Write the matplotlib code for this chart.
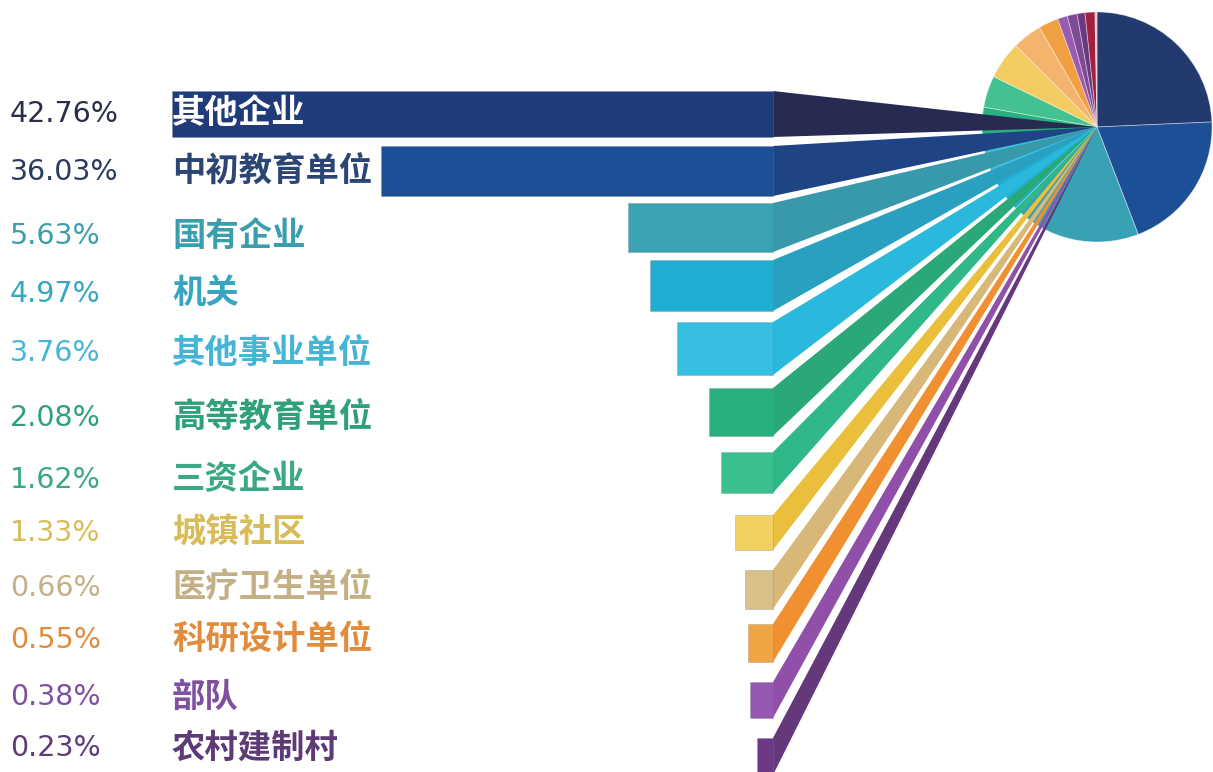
import matplotlib
matplotlib.use("Agg")
import matplotlib.pyplot as plt
from matplotlib.patches import Polygon

# ---- data ----
categories = ["其他企业", "中初教育单位", "国有企业", "机关", "其他事业单位", "高等教育单位",
              "三资企业", "城镇社区", "医疗卫生单位", "科研设计单位", "部队", "农村建制村"]
percents = [42.76, 36.03, 5.63, 4.97, 3.76, 2.08, 1.62, 1.33, 0.66, 0.55, 0.38, 0.23]
# pie slice shares as drawn (degrees, clockwise from 12 o'clock)
pie_shares = [87.5, 71.5, 66, 18, 18, 19, 16, 19, 15, 10, 5, 5, 4, 5, 1]

# ---- layout (pixels) ----
W, H = 1213, 772
bar_right = 773
bar_left = [172, 381, 628, 650, 677, 709, 721, 735, 745, 748, 750, 757]
bar_top = [91, 146, 203, 260, 322, 388, 452, 515, 570, 624, 682, 738]
bar_bot = [137, 196, 252, 311, 375, 436, 493, 550, 609, 662, 718, 775]
text_y = [114, 172, 236, 294, 353, 418, 480, 533, 588, 640, 697, 748]
pie_center = (1097, 127)
pie_radius = 115

# ---- styles ----
bar_colors = ["#1f3b7a", "#1c4f96", "#3aa3b3", "#1eaed2", "#36bfe0", "#27b07e",
              "#3cbf8f", "#f0d060", "#d8c08a", "#f0a545", "#9558b0", "#6c3a84"]
ribbon_colors = ["#272b52", "#1f4486", "#3899aa", "#2aa0c0", "#2ab8dc", "#2aa878",
                 "#30b888", "#eabf3c", "#d8b878", "#f09030", "#9050aa", "#65387c"]
label_colors = ["#ffffff", "#2b4574", "#3a9ead", "#35a5c0", "#45b5d5", "#30a07a",
                "#3aa880", "#d8bc58", "#c4b086", "#e08c3c", "#8050a0", "#5e3a76"]
pct_colors = ["#2a2d48", "#2a3a60", "#3a9ead", "#35a5c0", "#45b5d5", "#30a07a",
              "#3aa880", "#d8bc58", "#c4b086", "#e08c3c", "#8050a0", "#5e3a76"]
pie_colors = ["#233a6e", "#1d4f96", "#38a2b4", "#20b0d4", "#3cc0e0", "#28b07e",
              "#44c190", "#f2cc60", "#f4b46e", "#f0a040", "#9a5cb0", "#7e4a96",
              "#6a3a80", "#a02040", "#e8b8c8"]

fig = plt.figure(figsize=(W / 100, H / 100), dpi=100)
ax = fig.add_axes([0, 0, 1, 1])

# pie (drawn first so ribbons lie over it)
ax.pie(pie_shares, colors=pie_colors, startangle=-90, counterclock=True,
       center=pie_center, radius=pie_radius, frame=True,
       wedgeprops=dict(edgecolor=(1, 1, 1, 0.45), linewidth=0.6))

# bars
centers = [(t + b) / 2 for t, b in zip(bar_top, bar_bot)]
heights = [b - t for t, b in zip(bar_top, bar_bot)]
widths = [bar_right - l for l in bar_left]
ax.barh(centers, widths, left=bar_left, height=heights, color=bar_colors,
        edgecolor=(0.5, 0.5, 0.5, 0.35), linewidth=0.6, zorder=3)

# ribbons to pie centre
for i in range(len(categories)):
    poly = Polygon([(bar_right, bar_top[i]), (bar_right, bar_bot[i]), pie_center],
                   closed=True, facecolor=ribbon_colors[i], edgecolor="none", zorder=2)
    ax.add_patch(poly)

# texts
for i, (cat, p) in enumerate(zip(categories, percents)):
    ax.text(10, text_y[i], f"{p:.2f}%", family=["DejaVu Sans"], fontsize=20.5,
            color=pct_colors[i], va="center", ha="left", zorder=5)
    ax.text(172, text_y[i], cat, family=["Noto Sans CJK SC", "DejaVu Sans"],
            fontsize=24, fontweight="bold", color=label_colors[i],
            va="center", ha="left", zorder=5)

ax.set_xlim(0, W)
ax.set_ylim(H, 0)
ax.set_aspect("equal", adjustable="box")
ax.axis("off")

fig.savefig("out.png", dpi=100)
